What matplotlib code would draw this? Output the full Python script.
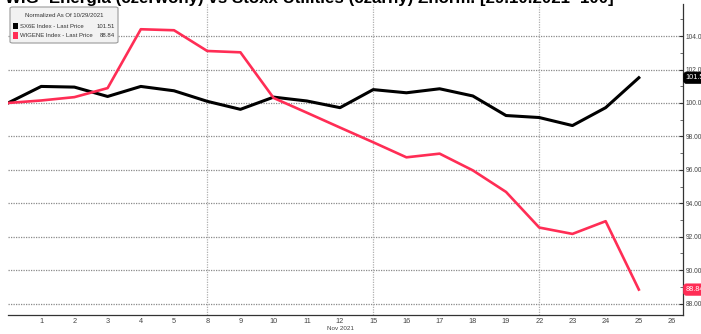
import matplotlib
matplotlib.use("Agg")
import matplotlib.pyplot as plt
from matplotlib.patches import FancyBboxPatch, Rectangle

# Trading days (Oct 29 2021 = base, then November sessions)
days = ["29", "1", "2", "3", "4", "5", "8", "9", "10", "11", "12",
        "15", "16", "17", "18", "19", "22", "23", "24", "25"]
tick_labels = ["1", "2", "3", "4", "5", "8", "9", "10", "11", "12",
               "15", "16", "17", "18", "19", "22", "23", "24", "25", "26"]

# Stoxx Europe 600 Utilities (SX6E), normalized 29.10.2021 = 100
sx6e = [100.00, 100.99, 100.95, 100.39, 100.99, 100.73, 100.10, 99.62,
        100.35, 100.12, 99.72, 100.80, 100.61, 100.85, 100.42, 99.25,
        99.13, 98.65, 99.72, 101.51]
# WIG-Energia (WIGENE), normalized 29.10.2021 = 100
wigene = [100.00, 100.15, 100.35, 100.89, 104.41, 104.35, 103.11, 103.03,
          100.30, 99.42, 98.53, 97.65, 96.75, 96.97, 95.97, 94.68,
          92.55, 92.17, 92.93, 88.84]

y_ticks = [88, 90, 92, 94, 96, 98, 100, 102, 104]
monday_lines = ["8", "15", "22"]

RED = "#ff2d55"
SMALL = ["Liberation Sans", "DejaVu Sans"]
W, H = 701, 334
fig = plt.figure(figsize=(W / 100, H / 100), dpi=100)
fig.patch.set_facecolor("white")

# axes box in pixel units
left, right, top, bottom = 8, 683, 4, 315
ax = fig.add_axes([left / W, 1 - bottom / H, (right - left) / W, (bottom - top) / H])

x = list(range(len(days)))
ax.set_xlim(0, 20.33)
ax.set_ylim(87.32, 105.92)

# grid
for v in y_ticks:
    ax.axhline(v, color="#8a8a8a", lw=0.9, ls=(0, (1, 1)), zorder=1)
for d in monday_lines:
    ax.axvline(days.index(d), color="#b0b0b0", lw=0.9, ls=(0, (1, 1)), zorder=1)

ax.plot(x, sx6e, color="black", lw=2.2, zorder=3, solid_joinstyle="round")
ax.plot(x, wigene, color=RED, lw=1.9, zorder=3, solid_joinstyle="round")

# spines
for s in ["top", "left"]:
    ax.spines[s].set_visible(False)
for s in ["bottom", "right"]:
    ax.spines[s].set_color("#333333")
    ax.spines[s].set_linewidth(0.9)

# y axis on the right
ax.yaxis.tick_right()
ax.set_yticks(y_ticks)
ax.set_yticklabels([f"{v:.2f}" for v in y_ticks], fontsize=4.8, family=SMALL)
ax.set_yticks([v + 1 for v in y_ticks], minor=True)
ax.tick_params(axis="y", which="major", direction="in", length=3, width=0.8,
               pad=2, colors="#333333", labelcolor="#444444")
ax.tick_params(axis="y", which="minor", direction="in", length=2, width=0.6,
               colors="#555555")

# x axis
ax.set_xticks(range(1, len(tick_labels) + 1))
ax.set_xticklabels(tick_labels, fontsize=5.3, color="#444444", family=SMALL)
ax.tick_params(axis="x", direction="out", length=0, pad=2.5)
ax.text(days.index("12"), -0.045, "Nov 2021", transform=ax.get_xaxis_transform(),
        ha="center", va="center", fontsize=4.5, color="#444444", family=SMALL)

# last-value tags on the price axis
for val, col in [(sx6e[-1], "black"), (wigene[-1], RED)]:
    ax.annotate(f"{val:.2f}", xy=(1.0, val), xycoords=("axes fraction", "data"),
                xytext=(2, 0), textcoords="offset points", ha="left", va="center",
                fontsize=5.3, color="white", annotation_clip=False, family=SMALL,
                bbox=dict(boxstyle="round,pad=0.3,rounding_size=0.4", fc=col,
                          ec=col, lw=0.5), zorder=6)

# legend box (figure pixel coordinates)
def px(xp, yp):
    return xp / W, 1 - yp / H

bx0, by0, bx1, by1 = 10, 7, 118, 43
box = FancyBboxPatch(px(bx0, by1), (bx1 - bx0) / W, (by1 - by0) / H,
                     boxstyle="round,pad=0,rounding_size=0.004",
                     transform=fig.transFigure, fc="#f2f2f2", ec="#9a9a9a",
                     lw=0.8, zorder=10)
fig.patches.append(box)
fig.text(*px(64, 15.5), "Normalized As Of 10/29/2021", ha="center", va="center",
         fontsize=4.3, color="#333333", family=SMALL, zorder=11)
rows = [("SX6E Index - Last Price", f"{sx6e[-1]:.2f}", "black", 26),
        ("WIGENE Index - Last Price", f"{wigene[-1]:.2f}", RED, 35.5)]
for name, val, col, yy in rows:
    sq = Rectangle(px(13, yy + 3), 5 / W, 6 / H, transform=fig.transFigure,
                   fc=col, ec=col, lw=0, zorder=11)
    fig.patches.append(sq)
    fig.text(*px(20.5, yy), name, ha="left", va="center", fontsize=4.3,
             color="#333333", family=SMALL, zorder=11)
    fig.text(*px(115, yy), val, ha="right", va="center", fontsize=4.3,
             color="#333333", family=SMALL, zorder=11)

# chart heading (runs off the top edge)
fig.text(5 / W, 1 - 3.5 / H,
         "WIG- Energia (czerwony) vs Stoxx Utilities (czarny) Znorm. [29.10.2021=100]",
         ha="left", va="baseline", fontsize=12.2, fontweight="bold", color="black",
         family=["Liberation Sans", "DejaVu Sans"])

fig.savefig("out.png", dpi=100, facecolor="white")
